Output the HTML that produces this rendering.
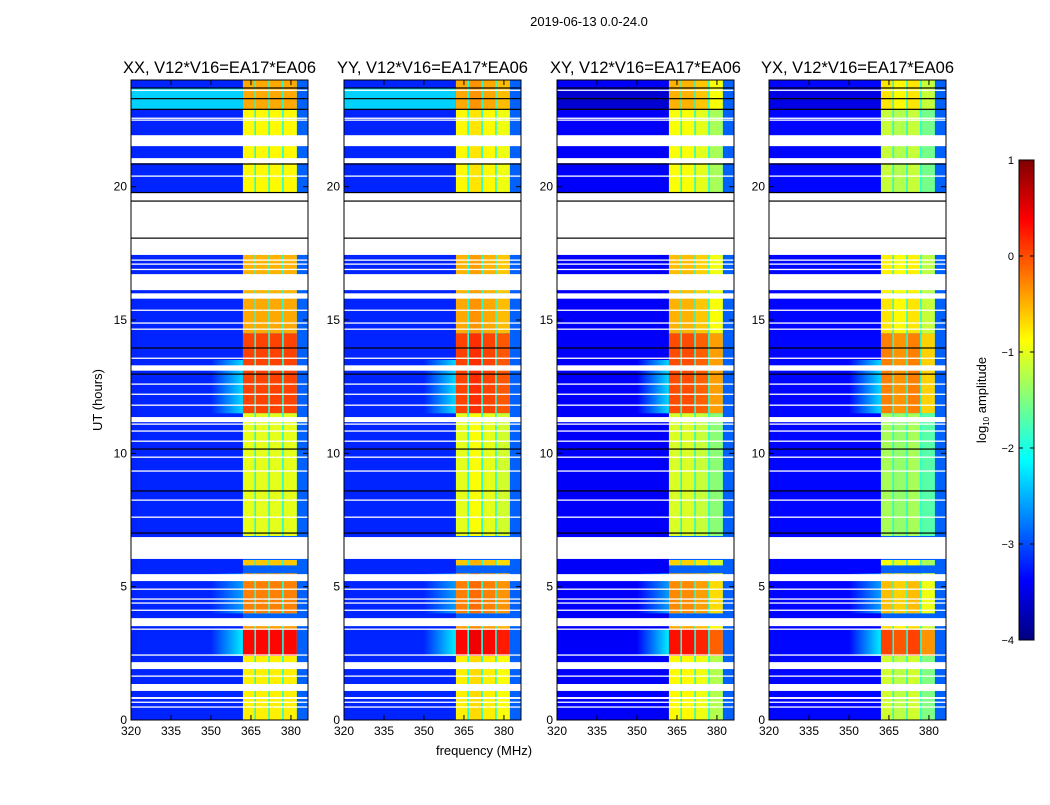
<!DOCTYPE html>
<html><head><meta charset="utf-8"><style>
body{margin:0;background:#fff;}
svg text{font-family:"Liberation Sans",sans-serif;fill:#000;}
</style></head><body>
<svg id="fig" width="1050" height="800" viewBox="0 0 1050 800" xmlns="http://www.w3.org/2000/svg">
<text x="589" y="26" font-size="13" text-anchor="middle">2019-06-13 0.0-24.0</text>
<text x="102" y="400" font-size="13" text-anchor="middle" transform="rotate(-90 102 400)">UT (hours)</text>
<text x="484" y="755" font-size="13" text-anchor="middle">frequency (MHz)</text>
<g id="panels"></g>
<g id="cbar"></g>
</svg>
<script>
const panelTitles = ["XX, V12*V16=EA17*EA06","YY, V12*V16=EA17*EA06","XY, V12*V16=EA17*EA06","YX, V12*V16=EA17*EA06"];
const panelLeft = [131,344,557,769];
const xTicks = [320,335,350,365,380];
const yTicks = [0,5,10,15,20];
const cbTicks = [1,0,-1,-2,-3,-4];
// data values (log10 amplitude)
const bgLevel = [-3.2,-3.2,-3.4,-3.35];
const topBgLevel = [-2.35,-2.35,-3.6,-3.5];
const rfiShift = [0,0,-0.15,-0.3];
const stripShift = [[0,0,0,0],[0,0.1,0,-0.1],[0.1,0.1,0,-0.3],[0,-0.1,0,-0.4]];
const strips = [[362,366.3],[366.9,371.5],[372.1,376.7],[377.3,382.2]];
const gapLevel = -2.0;
const highBandLevel = -2.9;
const rfiSegs = [[22.9,24,-0.45],[19.5,22.9,-0.85],[16.0,17.5,-0.5],[14.5,16,-0.45],[11.5,14.5,0.05],[6.9,11.5,-1.0],[5.8,6.0,-0.6],[4.0,5.5,-0.25],[3.4,3.8,-0.4],[2.4,3.4,0.35],[0,2.4,-0.8]];
const shoulderSegs = [[11.5,13.5,-2.3],[2.4,3.4,-2.2],[4.0,5.5,-2.6]];
const flagged = [[23.6,23.64],[22.55,22.59],[22.48,22.52],[21.52,21.93],[20.88,21.07],[20.38,20.42],[17.44,19.76],[17.23,17.27],[17.08,17.12],[16.88,16.92],[16.12,16.72],[15.8,16.0],[15.35,15.39],[14.87,14.91],[14.64,14.68],[13.55,13.59],[13.1,13.3],[12.58,12.62],[12.2,12.24],[11.79,11.83],[11.17,11.36],[11.08,11.12],[10.82,10.86],[10.44,10.48],[9.84,9.88],[9.32,9.36],[8.23,8.27],[7.59,7.63],[6.04,6.86],[5.21,5.47],[4.89,4.93],[4.52,4.56],[4.37,4.41],[4.1,4.14],[3.52,3.82],[3.39,3.43],[2.42,2.46],[1.91,2.17],[1.63,1.67],[1.09,1.35],[0.79,0.86],[0.65,0.69],[0.47,0.51]];
const blackLines = [23.7,23.3,22.9,20.85,19.78,19.46,18.07,13.95,12.97,10.16,8.59,7.01];

const W=177, TOP=80, BOT=720, FMIN=320, FMAX=386.4, HMAX=24;
const NS="http://www.w3.org/2000/svg";
function jet(v){
  let t=(v+4)/5; t=Math.max(0,Math.min(1,t));
  const st=[[0,[0,0,127]],[0.125,[0,0,255]],[0.375,[0,255,255]],[0.625,[255,255,0]],[0.875,[255,0,0]],[1,[127,0,0]]];
  for(let i=0;i<st.length-1;i++){if(t<=st[i+1][0]){const a=st[i],b=st[i+1],f=(t-a[0])/(b[0]-a[0]);
    return `rgb(${a[1].map((c,k)=>Math.round(c+(b[1][k]-c)*f)).join(',')})`;}}
  return 'rgb(127,0,0)';
}
function mk(tag,attrs,parent){const e=document.createElementNS(NS,tag);for(const k in attrs)e.setAttribute(k,attrs[k]);parent.appendChild(e);return e;}
const yS=h=>BOT-(h/HMAX)*(BOT-TOP);
const panels=document.getElementById('panels');
const defs0=mk('defs',{},document.getElementById('fig'));
panelTitles.forEach((title,p)=>{
  const L=panelLeft[p];
  const xS=f=>L+(f-FMIN)/(FMAX-FMIN)*W;
  const g=mk('g',{},panels);
  
  
  const bg=mk('rect',{x:L,y:TOP,width:W,height:BOT-TOP,fill:jet(bgLevel[p])},g);
  
  
  const tb=mk('rect',{x:L,y:yS(23.7),width:xS(362)-L,height:yS(22.9)-yS(23.7),fill:jet(topBgLevel[p])},g);
  
  
  shoulderSegs.forEach((s,i)=>{
    const gid='sh'+p+'_'+i;
    const lg=mk('linearGradient',{id:gid,x1:0,y1:0,x2:1,y2:0},defs0);
    mk('stop',{offset:0,'stop-color':jet(bgLevel[p])},lg);
    mk('stop',{offset:1,'stop-color':jet(s[2])},lg);
    const r=mk('rect',{x:xS(350),y:yS(s[1]),width:xS(362)-xS(350),height:yS(s[0])-yS(s[1]),fill:'url(#'+gid+')'},g);
    
    
  });
  const hb=mk('rect',{x:xS(strips[0][0]),y:TOP,width:L+W-xS(strips[0][0]),height:BOT-TOP,fill:jet(highBandLevel)},g);
  
  
  rfiSegs.forEach(s=>{
    const gp=mk('rect',{x:xS(strips[0][0]),y:yS(s[1]),width:xS(strips[3][1])-xS(strips[0][0]),height:yS(s[0])-yS(s[1]),fill:jet(gapLevel)},g);
    
    
    strips.forEach((st,k)=>{
      const r=mk('rect',{x:xS(st[0]),y:yS(s[1]),width:xS(st[1])-xS(st[0]),height:yS(s[0])-yS(s[1]),fill:jet(s[2]+rfiShift[p]+stripShift[p][k])},g);
      
      
    });
  });
  flagged.forEach(f=>{
    const h=Math.max(1.3,yS(f[0])-yS(f[1]));
    const r=mk('rect',{x:L,y:yS(f[1]),width:W,height:h,fill:'#fff'},g);
    
    
  });
  blackLines.forEach(b=>{
    const r=mk('rect',{x:L,y:yS(b)-0.6,width:W,height:1.2,fill:'#000'},g);
    
    
  });
  const fr=mk('rect',{x:L,y:TOP,width:W,height:BOT-TOP,fill:'none',stroke:'#000','stroke-width':1},g);
  
  
  const t=mk('text',{x:L+W/2,y:TOP-7,'font-size':16.5,'text-anchor':'middle'},g);t.textContent=title;
  
  
  xTicks.forEach(v=>{
    const x=xS(v);
    mk('line',{x1:x,x2:x,y1:BOT,y2:BOT-5,stroke:'#000'},g);
    mk('line',{x1:x,x2:x,y1:TOP,y2:TOP+5,stroke:'#000'},g);
    const tx=mk('text',{x:x,y:BOT+15,'font-size':12,'text-anchor':'middle'},g);tx.textContent=v;
    
    
  });
  yTicks.forEach(v=>{
    const y=yS(v);
    mk('line',{x1:L,x2:L+5,y1:y,y2:y,stroke:'#000'},g);
    mk('line',{x1:L+W,x2:L+W-5,y1:y,y2:y,stroke:'#000'},g);
    const ty=mk('text',{x:L-4,y:y+4,'font-size':12,'text-anchor':'end'},g);ty.textContent=v;
    
    
  });
});
// colorbar
const cb=document.getElementById('cbar');
const CX=1019,CW=15,CT=160,CB=640;
const defs=mk('defs',{},cb);
const lg=mk('linearGradient',{id:'jetg',x1:0,y1:1,x2:0,y2:0},defs);
[[0,'#00007f'],[0.125,'#0000ff'],[0.375,'#00ffff'],[0.625,'#ffff00'],[0.875,'#ff0000'],[1,'#7f0000']].forEach(s=>mk('stop',{offset:s[0],'stop-color':s[1]},lg));
mk('rect',{x:CX,y:CT,width:CW,height:CB-CT,fill:'url(#jetg)',stroke:'#000','stroke-width':1},cb);
cbTicks.forEach(v=>{
  const y=CB-(v+4)/5*(CB-CT);
  mk('line',{x1:CX,x2:CX+4,y1:y,y2:y,stroke:'#000'},cb);
  mk('line',{x1:CX+CW,x2:CX+CW-4,y1:y,y2:y,stroke:'#000'},cb);
  const t=mk('text',{x:1014,y:y+4,'font-size':11,'text-anchor':'end'},cb);t.textContent=(v<0?'\u2212'+(-v):v);
  
  
});
const cl=mk('text',{x:986,y:400,'font-size':13,'text-anchor':'middle',transform:'rotate(-90 986 400)'},cb);
cl.innerHTML='log<tspan font-size="8" dy="3">10</tspan><tspan dy="-3"> amplitude</tspan>';


</script>
</body></html>
